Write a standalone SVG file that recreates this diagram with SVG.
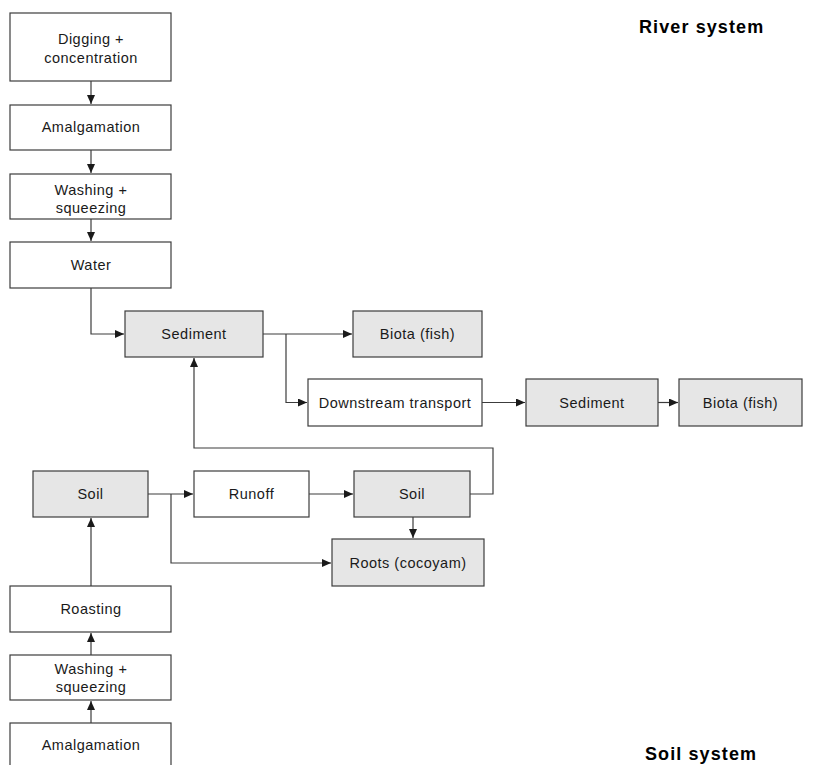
<svg xmlns="http://www.w3.org/2000/svg" width="829" height="765" viewBox="0 0 829 765">
<style>
.b{fill:#ffffff;stroke:#3c3c3c;stroke-width:1.2}
.g{fill:#e6e6e6;stroke:#3c3c3c;stroke-width:1.2}
.t{font-family:"Liberation Sans",Arial,sans-serif;font-size:14.5px;fill:#1a1a1a;text-anchor:middle;letter-spacing:0.5px}
.h{font-family:"Liberation Sans",Arial,sans-serif;font-size:18px;font-weight:bold;fill:#000;letter-spacing:1.1px}
.c{fill:none;stroke:#3c3c3c;stroke-width:1.2;marker-end:url(#a)}
</style>
<defs>
<marker id="a" markerUnits="userSpaceOnUse" markerWidth="10" markerHeight="9" refX="9" refY="4" orient="auto">
<path d="M0,0 L9,4 L0,8 z" fill="#1a1a1a"/>
</marker>
</defs>
<rect width="829" height="765" fill="#fff"/>
<text class="h" x="639" y="33">River system</text>
<text class="h" x="645" y="760">Soil system</text>

<g id="connectors">
<path class="c" d="M91,81 V104"/>
<path class="c" d="M91,150 V173"/>
<path class="c" d="M91,219 V241"/>
<path class="c" d="M91,288 V334 H124"/>
<path class="c" d="M263,334 H352"/>
<path class="c" d="M286,334 V402.5 H307"/>
<path class="c" d="M482,402.5 H525"/>
<path class="c" d="M658,402.5 H678"/>
<path class="c" d="M470,494 H493 V448 H194 V358"/>
<path class="c" d="M148,494 H193"/>
<path class="c" d="M171,494 V563 H331"/>
<path class="c" d="M309,494 H353"/>
<path class="c" d="M413,517 V538"/>
<path class="c" d="M91,586 V518"/>
<path class="c" d="M91,655 V633"/>
<path class="c" d="M91,723 V701"/>
</g>

<g id="n1"><rect class="b" x="10" y="13" width="161" height="68"/><text class="t" x="91" y="44">Digging +</text><text class="t" x="91" y="62.5">concentration</text></g>
<g id="n2"><rect class="b" x="10" y="105" width="161" height="45"/><text class="t" x="91" y="132">Amalgamation</text></g>
<g id="n3"><rect class="b" x="10" y="174" width="161" height="45"/><text class="t" x="91" y="194.5">Washing +</text><text class="t" x="91" y="213">squeezing</text></g>
<g id="n4"><rect class="b" x="10" y="242" width="161" height="46"/><text class="t" x="91" y="270">Water</text></g>
<g id="n5"><rect class="g" x="125" y="311" width="138" height="46"/><text class="t" x="194" y="339">Sediment</text></g>
<g id="n6"><rect class="g" x="353" y="311" width="129" height="46"/><text class="t" x="417.5" y="339">Biota (fish)</text></g>
<g id="n7"><rect class="b" x="308" y="379" width="174" height="47"/><text class="t" x="395" y="407.5">Downstream transport</text></g>
<g id="n8"><rect class="g" x="526" y="379" width="132" height="47"/><text class="t" x="592" y="407.5">Sediment</text></g>
<g id="n9"><rect class="g" x="679" y="379" width="123" height="47"/><text class="t" x="740.5" y="407.5">Biota (fish)</text></g>
<g id="n10"><rect class="g" x="33" y="471" width="115" height="46"/><text class="t" x="90.5" y="499">Soil</text></g>
<g id="n11"><rect class="b" x="194" y="471" width="115" height="46"/><text class="t" x="251.5" y="499">Runoff</text></g>
<g id="n12"><rect class="g" x="354" y="471" width="116" height="46"/><text class="t" x="412" y="499">Soil</text></g>
<g id="n13"><rect class="g" x="332" y="539" width="152" height="47"/><text class="t" x="408" y="567.5">Roots (cocoyam)</text></g>
<g id="n14"><rect class="b" x="10" y="586" width="161" height="46"/><text class="t" x="91" y="614">Roasting</text></g>
<g id="n15"><rect class="b" x="10" y="655" width="161" height="45"/><text class="t" x="91" y="674">Washing +</text><text class="t" x="91" y="692">squeezing</text></g>
<g id="n16"><rect class="b" x="10" y="723" width="161" height="46"/><text class="t" x="91" y="750">Amalgamation</text></g>
</svg>
